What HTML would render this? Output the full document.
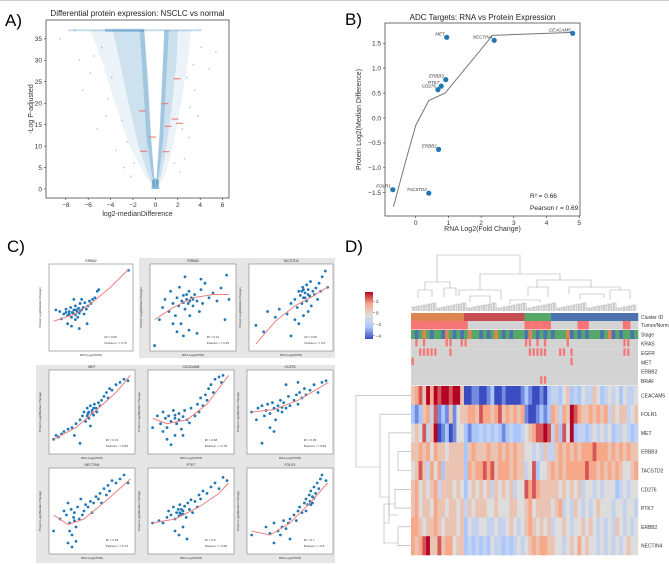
<!DOCTYPE html>
<html><head><meta charset="utf-8"><style>
html,body{margin:0;padding:0;background:#fff;}
svg{display:block;font-family:"Liberation Sans",sans-serif;}
</style></head><body>
<svg id="fig" width="669" height="564" viewBox="0 0 669 564" xmlns="http://www.w3.org/2000/svg">
<rect x="0" y="0" width="669" height="564" fill="#fff"/>
<line x1="0" y1="0.5" x2="669" y2="0.5" stroke="#ccc"/>
<g id="A"></g>
<g id="B"></g>
<g id="C"></g>
<g id="D"></g>
</svg>
<script>
// ---------- Panel A data ----------
const aXTicks=[-8,-6,-4,-2,0,2,4,6];
const aYTicks=[0,5,10,15,20,25,30,35];
const aLabels=[[1.9,25.7],[0.8,19.9],[-1.2,18.2],[1.7,16.3],[2.1,15.3],[1.1,14.6],[-0.3,12.1],[-1.1,8.8],[0.9,8.7]];
const aSparse=[[-8.5,35],[-6.8,30],[-6.5,23],[-5.2,14],[-4.2,21],[-3.5,9],[-5.8,27],[4.1,33],[4.8,28],[5.4,32],[3.5,23],[3.0,12],[2.6,7],[-2.8,5],[3.8,17],[-7.2,37],[4.0,37],[-2.2,3],[2.2,4],[-4.8,33],[-3.9,26],[-3.0,16],[-2.5,11],[2.8,26],[3.1,19],[2.4,14],[-5.5,31],[-4.4,17],[3.4,29],[-1.9,6],[1.7,6]];
// ---------- Panel B data ----------
const bGenes=["CEACAM5","MET","NECTIN4","ERBB3","PTK7","CD276","ERBB2","FOLR1","TACSTD2"];
const bRna=[4.8,0.95,2.4,0.92,0.78,0.68,0.7,-0.7,0.4];
const bProt=[1.7,1.62,1.56,0.77,0.64,0.57,-0.63,-1.44,-1.51];
const bFitX=[-0.68,-0.3,0.0,0.4,0.9,2.35,4.8];
const bFitY=[-1.78,-0.85,-0.15,0.35,0.5,1.66,1.72];
const bXTicks=[0,1,2,3,4,5];
const bYTicks=[-1.5,-1.0,-0.5,0.0,0.5,1.0,1.5];
// ---------- Panel C data ----------
const cTitles=["ERBB2","ERBB3","TACSTD2","MET","CEACAM5","CD276","NECTIN4","PTK7","FOLR1"];
const cR2=["0.56","0.12","0.26","0.72","0.68","0.35","0.63","0.5","0.7"];
const cPear=["0.73","0.35","0.5","0.82","0.78","0.59","0.74","0.69","0.8"];
const cPts=[
"05,47 10,45 15,42 18,48 20,40 22,45 24,50 25,38 27,43 28,47 30,41 30,52 32,45 33,38 34,49 35,43 36,55 38,47 40,50 41,42 42,56 44,48 46,52 48,58 50,55 52,60 55,62 58,70 60,72 20,30 25,27 35,24 45,30 30,35 12,36 38,60 98,96 28,60 26,44 31,47 22,42 36,46 18,44",
"02,03 08,35 12,50 15,60 20,45 22,70 25,55 28,40 30,62 32,52 33,75 35,30 36,58 38,65 40,48 40,88 42,60 44,55 45,70 46,40 48,62 50,52 52,66 55,58 58,45 60,72 62,55 65,80 70,62 75,68 80,58 85,74 90,35 95,60 30,20 38,15 45,22 55,18 25,30 60,85 92,90 42,66 46,58 50,60 38,56",
"05,28 15,20 20,45 30,38 35,48 45,42 50,55 55,60 58,50 60,70 62,65 64,55 65,75 66,62 68,68 70,58 70,78 72,72 74,64 75,82 76,52 78,70 80,66 82,74 84,60 86,80 88,70 90,88 94,95 97,75 60,30 66,40 72,45 50,15 55,35 64,70 68,62 72,66 66,72",
"02,15 05,20 08,18 12,22 15,25 20,28 25,30 28,20 30,35 35,40 38,45 40,50 42,38 44,55 45,48 46,42 48,58 50,52 52,46 53,60 55,55 56,50 58,62 60,58 62,65 65,70 68,75 70,68 72,80 75,78 80,85 85,88 90,92 95,90 35,10 48,32 46,50 50,48 44,45 52,55",
"02,30 08,45 12,35 15,50 18,42 20,30 22,45 25,38 28,52 30,42 32,35 35,48 38,28 40,44 42,52 45,40 48,36 50,55 55,45 58,60 60,50 62,68 65,58 68,72 70,65 72,80 75,85 78,75 80,92 85,95 88,88 90,97 20,15 25,8 30,20 15,25 40,20 30,46 35,40",
"02,50 08,40 10,55 15,58 18,45 20,52 22,60 25,48 28,62 30,55 32,40 35,58 38,65 40,50 42,62 45,55 48,70 50,58 55,65 58,72 60,60 62,75 65,68 68,80 70,72 75,78 80,85 85,75 90,88 95,90 25,30 30,25 15,10 45,85 60,88 35,52 40,56",
"02,25 10,40 15,50 18,45 20,60 22,35 24,52 25,20 27,42 28,48 30,30 32,55 34,40 36,65 38,45 40,50 42,58 45,55 48,62 50,48 52,60 55,68 58,65 60,72 62,60 65,78 68,70 70,82 72,75 75,88 80,85 85,90 90,95 95,85 20,10 30,12 25,5 22,25 28,38",
"02,35 10,38 15,35 20,42 22,50 25,45 28,55 30,40 32,48 34,52 35,44 36,58 38,46 40,50 42,56 44,42 46,60 48,52 50,64 52,48 55,62 58,55 60,70 62,65 65,75 70,72 75,80 80,85 85,78 90,92 95,88 30,25 35,20 40,30 45,15 36,48 40,46 38,52",
"02,20 20,30 25,22 30,35 35,25 38,20 40,30 42,38 45,28 48,35 50,40 55,45 58,38 60,50 62,55 65,48 68,60 70,65 72,58 74,70 75,62 76,75 78,68 80,80 82,72 84,85 86,78 88,90 90,95 95,88 30,10 50,15 70,50 78,60 80,66 76,58"
];
const cFits=[
"2,33 30,42 50,55 75,75 98,97","2,35 25,50 50,62 75,66 95,66","5,5 30,33 55,52 80,65 98,76",
"2,15 30,30 55,52 80,75 98,97","2,42 20,35 45,40 70,60 97,97","2,50 30,53 60,65 85,80 98,88",
"2,45 20,33 40,40 70,65 98,90","2,35 30,40 60,55 85,72 97,85","2,25 25,20 50,35 75,60 97,85"];
// ---------- Panel D data ----------
const dGenes=["CEACAM5","FOLR1","MET","ERBB3","TACSTD2","CD276","PTK7","ERBB2","NECTIN4"];
const dValues=[
"56758687887885"+"0011001200100001"+"2100102"+"33245232433542343424334",
"21256371215145"+"5665766567565656"+"1001212"+"65365876556565635455345",
"45473580120144"+"2122323232123223"+"4567787"+"36274823323434342334323",
"55656465545555"+"2565556556565655"+"4434353"+"35656565666766656565655",
"45753646255555"+"2656676756665655"+"3472445"+"65656666676656565654456",
"56454563555454"+"2454545354545344"+"7676555"+"55454545344343444234344",
"56455465545545"+"3545554454445544"+"5645555"+"45634354343454443443443",
"66545565455545"+"2433443343345434"+"5654545"+"34454344545434343543434",
"65678557566455"+"2323232433232343"+"4565665"+"54434546454434343434544"];
const dCluster="oooooooooooooo"+"rrrrrrrrrrrrrrrr"+"ggggggg"+"bbbbbbbbbbbbbbbbbbbbbbb";
const dTumor="111111111111111"+"000000000000000"+"1111111"+"00000001110000000001100";
const dStage="gbgogbggbogbgbgoggbgbgogbgbgggbogbgbgbgggobgbgbgggbgobgbggbg";
const dMutNames=["KRAS","EGFR","MET","ERBB2","BRAF"];
const dMut=[
"010100000110011000000000000000110101000001000000000000001100",
"001111100010000000000000000000011111000110100000000000001100",
"100000000000000000000000000000000000000000100000000000000000",
"000000000000000000000000000000000000000000000000000000000000",
"000000000000000000000000000000000011000000000000000000000000"];
const cbTicks=[2,0,-2,-4];

const NS="http://www.w3.org/2000/svg";
function mk(parent,tag,attrs,text){const e=document.createElementNS(NS,tag);for(const k in attrs)e.setAttribute(k,attrs[k]);if(text!==undefined)e.textContent=text;parent.appendChild(e);return e;}

// ================= Panel A =================
(function(){
const g=document.getElementById('A');
const L=46,R=229,T=20,B=198;
const xs=v=>155.4+v*11.2, ys=v=>189-v*4.29;
let t=mk(g,'text',{x:5,y:26,'font-size':17},'A)');

t=mk(g,'text',{x:(L+R)/2,y:16,'font-size':8,'text-anchor':'middle',fill:'#222'},'Differential protein expression: NSCLC vs normal');

const clouds=[
 {pts:[[-0.05,0],[-0.9,3],[-2.3,10],[-3.6,20],[-4.8,30],[-5.8,37],[-1.0,37],[-0.6,25],[-0.35,12],[-0.15,4]],op:0.09},
 {pts:[[0.05,0],[0.8,3],[1.6,10],[2.3,20],[2.9,30],[3.2,37],[0.8,37],[0.55,25],[0.35,12],[0.15,4]],op:0.09},
 {pts:[[-0.05,0],[-0.6,3],[-1.5,10],[-2.4,20],[-3.2,30],[-3.8,37],[-1.0,37],[-0.65,25],[-0.4,12],[-0.15,4]],op:0.14},
 {pts:[[0.05,0],[0.5,3],[1.0,10],[1.5,20],[1.9,30],[2.0,37],[0.8,37],[0.6,25],[0.4,12],[0.15,4]],op:0.15},
 {pts:[[-0.05,0],[-0.35,4],[-0.8,12],[-1.1,25],[-1.4,37],[-1.0,37],[-0.7,25],[-0.4,12],[-0.1,3]],op:0.25},
 {pts:[[0.05,0],[0.35,4],[0.7,12],[0.95,25],[1.2,37],[0.8,37],[0.6,25],[0.35,12],[0.1,3]],op:0.25},
 {pts:[[-0.35,0],[0.35,0],[0.3,2],[0,2.5],[-0.3,2]],op:0.5}];
clouds.forEach((c,i)=>{const p=mk(g,'polygon',{points:c.pts.map(q=>xs(q[0])+','+ys(q[1])).join(' '),fill:'#1f77b4','fill-opacity':c.op});
});
const top=mk(g,'rect',{x:xs(-7.8),y:ys(37)-1,width:xs(4)-xs(-7.8),height:2,fill:'#1f77b4','fill-opacity':0.25});

const top2=mk(g,'rect',{x:xs(-4.5),y:ys(37)-1.5,width:xs(-1)-xs(-4.5),height:3,fill:'#1f77b4','fill-opacity':0.35});

aSparse.forEach((p,i)=>{const c=mk(g,'circle',{cx:xs(p[0]),cy:ys(p[1]),r:0.9,fill:'#1f77b4','fill-opacity':0.35});
});
aLabels.forEach(p=>{const r=mk(g,'rect',{x:xs(p[0])-3,y:ys(p[1])-0.6,width:7,height:1.2,fill:'#f06a6a','fill-opacity':0.8});
});
const fr=mk(g,'rect',{x:L,y:T,width:R-L,height:B-T,fill:'none',stroke:'#333','stroke-width':0.7});

aXTicks.forEach(v=>{mk(g,'line',{x1:xs(v),x2:xs(v),y1:B,y2:B+2,stroke:'#333','stroke-width':0.6});
const tx=mk(g,'text',{x:xs(v),y:B+9,'font-size':6.5,'text-anchor':'middle',fill:'#333'},v<0?'\u2212'+(-v):v);
});
aYTicks.forEach(v=>{mk(g,'line',{x1:L-2,x2:L,y1:ys(v),y2:ys(v),stroke:'#333','stroke-width':0.6});
const tx=mk(g,'text',{x:L-4,y:ys(v)+2.3,'font-size':6.5,'text-anchor':'end',fill:'#333'},v);
});
t=mk(g,'text',{x:(L+R)/2,y:B+18,'font-size':7,'text-anchor':'middle',fill:'#333'},'log2-medianDifference');

t=mk(g,'text',{x:0,y:0,'font-size':7,'text-anchor':'middle',fill:'#333',transform:'translate(33,'+(T+B)/2+') rotate(-90)'},'-Log P-adjusted');

})();

// ================= Panel B =================
(function(){
const g=document.getElementById('B');
const L=385,R=580,T=23,B=216;
const xs=v=>415.7+v*32.7, ys=v=>118-v*49.8;
let t=mk(g,'text',{x:345,y:25,'font-size':17},'B)');

t=mk(g,'text',{x:(L+R)/2,y:20,'font-size':8,'text-anchor':'middle',fill:'#222'},'ADC Targets: RNA vs Protein Expression');

const fit=mk(g,'polyline',{points:bFitX.map((x,i)=>xs(x)+','+ys(bFitY[i])).join(' '),fill:'none',stroke:'#777','stroke-width':1});

bGenes.forEach((n,i)=>{const c=mk(g,'circle',{cx:xs(bRna[i]),cy:ys(bProt[i]),r:2.6,fill:'#1f77b4'});

const tx=mk(g,'text',{x:xs(bRna[i])-2,y:ys(bProt[i])-2,'font-size':4.5,'font-style':'italic','text-anchor':'end',fill:'#333'},n);
});
const fr=mk(g,'rect',{x:L,y:T,width:R-L,height:B-T,fill:'none',stroke:'#333','stroke-width':0.7});

bXTicks.forEach(v=>{mk(g,'line',{x1:xs(v),x2:xs(v),y1:B,y2:B+2,stroke:'#333','stroke-width':0.6});
const tx=mk(g,'text',{x:xs(v),y:B+9,'font-size':6.5,'text-anchor':'middle',fill:'#333'},v);
});
bYTicks.forEach(v=>{mk(g,'line',{x1:L-2,x2:L,y1:ys(v),y2:ys(v),stroke:'#333','stroke-width':0.6});
const tx=mk(g,'text',{x:L-4,y:ys(v)+2.3,'font-size':6.5,'text-anchor':'end',fill:'#333'},v<0?'\u2212'+(-v).toFixed(1):v.toFixed(1));
});
t=mk(g,'text',{x:530,y:198,'font-size':6.5,fill:'#222'},'R\u00b2 = 0.66');

t=mk(g,'text',{x:530,y:210,'font-size':6.5,fill:'#222'},'Pearson r = 0.69');

t=mk(g,'text',{x:(L+R)/2,y:231,'font-size':7,'text-anchor':'middle',fill:'#333'},'RNA Log2(Fold Change)');

t=mk(g,'text',{x:0,y:0,'font-size':7,'text-anchor':'middle',fill:'#333',transform:'translate(361,'+(T+B)/2+') rotate(-90)'},'Protein Log2(Median Difference)');

})();

// ================= Panel C =================
(function(){
const g=document.getElementById('C');
let t=mk(g,'text',{x:7,y:252,'font-size':17},'C)');

let bg=mk(g,'rect',{x:139,y:258,width:196,height:100,fill:'#e6e6e6'});

bg=mk(g,'rect',{x:36,y:365,width:299,height:198,fill:'#e6e6e6'});

const boxes=[[49,264,84,87],[150,264,86,87],[249,264,84,87],[49,370,86,84],[148,370,86,84],[247,370,86,84],[49,468,86,86],[148,468,86,86],[247,468,86,86]];
boxes.forEach((b,i)=>{
 const sg=mk(g,'g',{});
 
 const [x,y,w,h]=b;
 const xs=v=>x+3+v/100*(w-6), ys=v=>y+h-3-v/100*(h-6);
 mk(sg,'rect',{x:x,y:y,width:w,height:h,fill:'#fff',stroke:'#666','stroke-width':0.5});
 const tt=mk(sg,'text',{x:x+w/2,y:y-2,'font-size':3.5,'text-anchor':'middle',fill:'#333'},cTitles[i]);
 
 cPts[i].split(' ').forEach(s=>{const [px,py]=s.split(',').map(Number);
  const c=mk(sg,'circle',{cx:xs(px),cy:ys(py),r:1.4,fill:'#1f77b4'});
  });
 const f=mk(sg,'polyline',{points:cFits[i].split(' ').map(s=>{const [px,py]=s.split(',').map(Number);return xs(px)+','+ys(py);}).join(' '),fill:'none',stroke:'#f08080','stroke-width':1});
 
 let a=mk(sg,'text',{x:x+w*0.66,y:y+h-13,'font-size':3,fill:'#333'},'R\u00b2 = '+cR2[i]);
 
 a=mk(sg,'text',{x:x+w*0.66,y:y+h-7,'font-size':3,fill:'#333'},'Pearson r = '+cPear[i]);
 
 a=mk(sg,'text',{x:x+w/2,y:y+h+5,'font-size':3,'text-anchor':'middle',fill:'#333'},'RNA Log2(TPM)');
 
 a=mk(sg,'text',{x:0,y:0,'font-size':3,'text-anchor':'middle',fill:'#333',transform:'translate('+(x-8)+','+(y+h/2)+') rotate(-90)'},'Protein Log2(Median Change)');
 
});
})();

// ================= Panel D =================
(function(){
const g=document.getElementById('D');
let t=mk(g,'text',{x:345,y:252,'font-size':17},'D)');

const L=411,R=638,N=60,cw=(R-L)/N;
const stops=[[59,76,192],[170,199,253],[221,221,221],[247,168,137],[180,4,38]];
function cmap(v){const p=Math.max(0,Math.min(8,v))/2;const i=Math.min(3,Math.floor(p)),f=p-i;const a=stops[i],b=stops[i+1];
 return 'rgb('+a.map((c,k)=>Math.round(c+(b[k]-c)*f)).join(',')+')';}
const ccol={o:'#dd8452',r:'#c44e52',g:'#55a868',b:'#4c72b0'};
function lab(y,txt){const e=mk(g,'text',{x:R+3,y:y+2,'font-size':5,fill:'#333'},txt);}
for(let j=0;j<N;j++){const r=mk(g,'rect',{x:L+j*cw,y:313,width:cw+0.3,height:8,fill:ccol[dCluster[j]]});
 }
lab(317,'Cluster ID');
for(let j=0;j<N;j++){const r=mk(g,'rect',{x:L+j*cw,y:321,width:cw+0.3,height:8.5,fill:dTumor[j]==='1'?'#f87575':'#d3d3d3'});
 }
lab(325,'Tumor/Norm');
const sc={g:'#55a868',b:'#4c72b0',o:'#dd8452'};
for(let j=0;j<N;j++){const r=mk(g,'rect',{x:L+j*cw,y:330,width:cw+0.3,height:9,fill:sc[dStage[j]]});
 }
lab(334.5,'Stage');
const my0=339,mh=9.3;
dMutNames.forEach((n,i)=>{
 const r=mk(g,'rect',{x:L,y:my0+i*mh,width:R-L,height:mh,fill:'#d3d3d3'});
 
 for(let j=0;j<N;j++)if(dMut[i][j]==='1'){const c=mk(g,'rect',{x:L+j*cw+0.5,y:my0+i*mh,width:cw*0.6,height:mh*0.8,fill:'#f87575'});
  }
 lab(my0+i*mh+mh/2,n);});
const hy0=386,rh=(555-386)/9;
dGenes.forEach((n,i)=>{
 for(let j=0;j<N;j++){const r=mk(g,'rect',{x:L+j*cw,y:hy0+i*rh,width:cw+0.3,height:rh+0.3,fill:cmap(+dValues[i][j])});
  }
 lab(hy0+i*rh+rh/2,n);});
const cbx=365,cby=292,cbh=47;
const grad=mk(g,'linearGradient',{id:'cbg',x1:0,y1:1,x2:0,y2:0});
stops.forEach((s,i)=>mk(grad,'stop',{offset:i/4,'stop-color':'rgb('+s.join(',')+')'}));
const cb=mk(g,'rect',{x:cbx,y:cby,width:8,height:cbh,fill:'url(#cbg)'});

cbTicks.forEach(v=>{const y=cby+cbh*(3.6-v)/(3.6+4.6);
 mk(g,'line',{x1:cbx+8,x2:cbx+10,y1:y,y2:y,stroke:'#333','stroke-width':0.4});
 const e=mk(g,'text',{x:cbx+11,y:y+1.7,'font-size':4.5,fill:'#333'},v<0?'\u2212'+(-v):v);
 });
const dg=mk(g,'g',{stroke:'#aaa','stroke-width':0.6,fill:'none'});

function U(x1,x2,yTop,y1,y2){mk(dg,'path',{d:'M'+x1+','+y1+'V'+yTop+'H'+x2+'V'+y2});}
U(437,520,255,282,274);
U(425,450,282,290,288);U(480,560,274,290,280);
U(459,501,290,296,300);U(537,591,280,288,287);U(569,620,287,294,290);
U(418,432,290,298,297);U(444,456,288,297,296);U(470,490,296,302,303);U(510,540,300,304,303);
U(528,548,287,296,297);U(580,604,294,299,298);U(610,630,290,300,299);
for(let x=412;x<637;x+=2.5){const h=303+((Math.round(x*7))%6);mk(dg,'path',{d:'M'+x+',311V'+h+'H'+(x+1.5)+'V311'});}
const rg=mk(g,'g',{stroke:'#aaa','stroke-width':0.6,fill:'none'});

const rc=i=>hy0+i*rh+rh/2;
function V(y1,y2,xL,x1,x2){mk(rg,'path',{d:'M'+x1+','+y1+'H'+xL+'V'+y2+'H'+x2});}
V(rc(0),467,356,411,380);
V(rc(1),497,380,411,389);
V(rc(2),515,389,411,398);
V(rc(3),rc(4),398,411,411);
V(rc(5),rc(6),395,411,411);V(rc(7),rc(8),398,411,411);
V(504,543,384,395,398);
mk(rg,'path',{d:'M389,497V523H384'});
})();
</script>
</body></html>
